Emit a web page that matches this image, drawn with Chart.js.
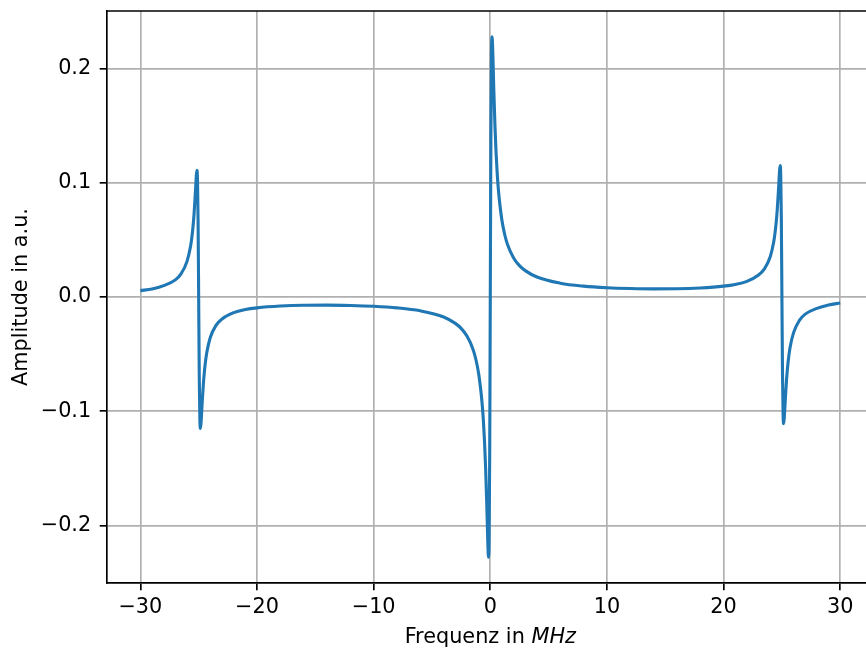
<!DOCTYPE html>
<html>
<head>
<meta charset="utf-8">
<script src="https://cdn.jsdelivr.net/npm/chart.js@4/dist/chart.umd.min.js"></script>
<style>
  html, body { margin: 0; padding: 0; background: #fff; overflow: hidden; }
  canvas { display: block; }
</style>
</head>
<body>
<canvas id="chart" width="866" height="648"></canvas>
<script>
const freq = [
  -30, -29, -28, -27, -26.5, -26, -25.7, -25.6, -25.5, -25.4, -25.3, -25.25, -25.2, -25.15,
  -25.1, -25.05, -25, -24.95, -24.9, -24.85, -24.8, -24.75, -24.7, -24.6, -24.5, -24.4,
  -24.3, -24, -23.5, -23, -22, -21, -20, -18, -16, -14, -12, -10, -8, -6, -4, -3, -2.5, -2,
  -1.5, -1.25, -1, -0.8, -0.7, -0.6, -0.5, -0.4, -0.3, -0.25, -0.2, -0.15, -0.1, -0.05, 0,
  0.05, 0.1, 0.15, 0.2, 0.25, 0.3, 0.4, 0.5, 0.6, 0.7, 0.8, 1, 1.25, 1.5, 2, 2.5, 3, 4, 6, 8, 10, 12,
  14, 16, 18, 20, 21, 22, 23, 23.5, 24, 24.3, 24.4, 24.5, 24.6, 24.7, 24.75, 24.8, 24.85,
  24.9, 24.95, 25, 25.05, 25.1, 25.15, 25.2, 25.25, 25.3, 25.4, 25.5, 25.6, 25.7, 26,
  26.5, 27, 28, 29, 30
];
const amplitude = [
  0.0056, 0.0070, 0.0100, 0.0150, 0.0205, 0.0312, 0.0442, 0.0511, 0.0601, 0.0722, 0.0883, 0.0976, 0.1064, 0.1109,
  0.1022, 0.0657, -0.0021, -0.0699, -0.1064, -0.1151, -0.1106, -0.1018, -0.0925, -0.0764, -0.0643, -0.0553,
  -0.0484, -0.0353, -0.0246, -0.0192, -0.0137, -0.0110, -0.0095, -0.0079, -0.0072, -0.0071, -0.0074, -0.0081, -0.0095, -0.0121, -0.0175, -0.0231, -0.0275, -0.0342,
  -0.0453, -0.0541, -0.0670, -0.0830, -0.0934, -0.1070, -0.1255, -0.1500, -0.1820, -0.2012, -0.2190, -0.2280, -0.2105, -0.1370, 0,
  0.1370, 0.2105, 0.2280, 0.2190, 0.2012, 0.1820, 0.1500, 0.1255, 0.1070, 0.0934, 0.0830, 0.0670, 0.0541, 0.0453, 0.0342, 0.0275, 0.0231, 0.0175, 0.0121, 0.0095, 0.0081, 0.0074,
  0.0071, 0.0072, 0.0079, 0.0095, 0.0110, 0.0137, 0.0192, 0.0246, 0.0353, 0.0484, 0.0553, 0.0643, 0.0764, 0.0925, 0.1018, 0.1106, 0.1151,
  0.1064, 0.0699, 0.0021, -0.0657, -0.1022, -0.1109, -0.1064, -0.0976, -0.0883, -0.0722, -0.0601, -0.0511, -0.0442, -0.0312,
  -0.0205, -0.0150, -0.0100, -0.0070, -0.0053
];
const xTicks = [-30, -20, -10, 0, 10, 20, 30];
const yTicks = [-0.2, -0.1, 0.0, 0.1, 0.2];

const FONT = 'DejaVu Sans';
const FS = 20.8;
const GRID = { color: '#b0b0b0', lineWidth: 1.67, tickColor: '#000', tickWidth: 1.67, tickLength: 7.3 };

function fmt(v, digits) {
  const s = Math.abs(v).toFixed(digits);
  return (v < -1e-9 ? '\u2212' : '') + s;
}

// top spine + x label with italic unit
const extras = {
  id: 'extras',
  afterDraw(chart) {
    const ctx = chart.ctx;
    const a = chart.chartArea;
    ctx.save();
    ctx.strokeStyle = '#000';
    ctx.lineWidth = 1.67;
    ctx.beginPath();
    ctx.moveTo(a.left - 0.8, a.top);
    ctx.lineTo(a.right, a.top);
    ctx.stroke();

    const part1 = 'Frequenz in ';
    const part2 = 'MHz';
    ctx.fillStyle = '#000';
    ctx.textBaseline = 'alphabetic';
    ctx.font = FS + 'px "' + FONT + '"';
    const w1 = ctx.measureText(part1).width;
    ctx.font = 'italic ' + FS + 'px "' + FONT + '"';
    const w2 = ctx.measureText(part2).width;
    const cx = chart.scales.x.getPixelForValue(0);
    const x0 = cx - (w1 + w2) / 2;
    const y0 = 643.3;
    ctx.font = FS + 'px "' + FONT + '"';
    ctx.fillText(part1, x0, y0);
    ctx.font = 'italic ' + FS + 'px "' + FONT + '"';
    ctx.fillText(part2, x0 + w1, y0);
    ctx.restore();
  }
};

new Chart(document.getElementById('chart'), {
  type: 'line',
  data: {
    datasets: [{
      data: freq.map((f, i) => ({ x: f, y: amplitude[i] })),
      borderColor: '#1f77b4',
      borderWidth: 3.1,
      pointRadius: 0,
      fill: false,
      cubicInterpolationMode: 'monotone'
    }]
  },
  options: {
    responsive: false,
    animation: false,
    devicePixelRatio: 1,
    layout: { padding: { top: 11, right: 0, bottom: 0, left: 0 } },
    plugins: { legend: { display: false }, tooltip: { enabled: false } },
    scales: {
      x: {
        type: 'linear',
        min: -32.86,
        max: 32.21,
        afterBuildTicks: s => { s.ticks = xTicks.map(v => ({ value: v })); },
        afterFit: s => { s.height = 65; s.paddingLeft = 0; s.paddingRight = 0; },
        grid: GRID,
        border: { color: '#000', width: 1.67 },
        ticks: {
          color: '#000', padding: 5, maxRotation: 0, autoSkip: false,
          font: { family: FONT, size: FS },
          callback: v => fmt(v, 0)
        }
      },
      y: {
        type: 'linear',
        min: -0.2505,
        max: 0.2505,
        afterBuildTicks: s => { s.ticks = yTicks.map(v => ({ value: v })); },
        afterFit: s => { s.width = 107; s.paddingTop = 0; s.paddingBottom = 0; },
        grid: GRID,
        border: { color: '#000', width: 1.67 },
        title: {
          display: true,
          text: 'Amplitude in a.u.',
          color: '#000',
          font: { family: FONT, size: FS },
          padding: { top: 9, bottom: 0 }
        },
        ticks: {
          color: '#000', padding: 8.5, autoSkip: false,
          font: { family: FONT, size: FS },
          callback: v => fmt(v, 1)
        }
      }
    }
  },
  plugins: [extras]
});
</script>
</body>
</html>
